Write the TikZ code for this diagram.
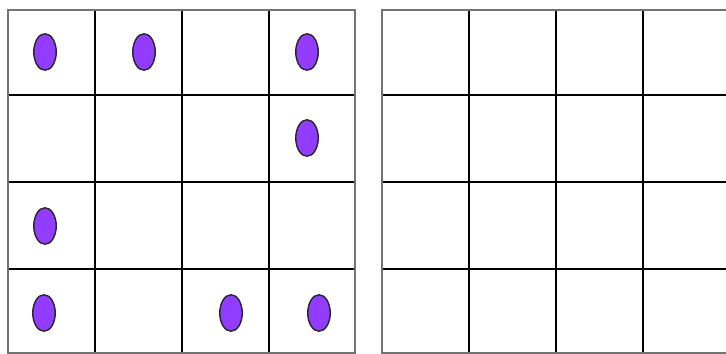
\documentclass[tikz,border=0pt]{standalone}
\usepackage{xcolor}
\usepackage{tikz}
\usetikzlibrary{shapes.geometric}

\definecolor{tokpurple}{RGB}{145,60,255}

\begin{document}
\begin{tikzpicture}[x=0.02cm,y=-0.02cm,
   frame/.style={draw=black!55,line width=0.9pt},
   cell/.style={draw=black,line width=1.4pt},
   token/.style={ellipse,draw=black!85,fill=tokpurple,line width=0.8pt,
     minimum width=4.5mm,minimum height=7.3mm,inner sep=0pt}]
  \useasboundingbox (0,0) rectangle (726,354);
  % left board
  \foreach \x in {95,182,269} \draw[cell] (\x,10) -- (\x,353);
  \foreach \y in {95,182,269} \draw[cell] (8,\y) -- (355,\y);
  \draw[frame] (8,10) rectangle (355,353);
  % right board, cut at the edge
  \foreach \x in {469,556,643} \draw[cell] (\x,10) -- (\x,353);
  \foreach \y in {95,182,269} \draw[cell] (382,\y) -- (726,\y);
  \draw[frame] (726,10) -- (382,10) -- (382,353) -- (726,353);
  % tokens
  \node[token] (t11) at (45,52)   {};
  \node[token] (t12) at (144,52)  {};
  \node[token] (t14) at (307,52)  {};
  \node[token] (t24) at (307,138) {};
  \node[token] (t31) at (45,226)  {};
  \node[token] (t41) at (44,313)  {};
  \node[token] (t43) at (231,313) {};
  \node[token] (t44) at (319,313) {};
\end{tikzpicture}
\end{document}
